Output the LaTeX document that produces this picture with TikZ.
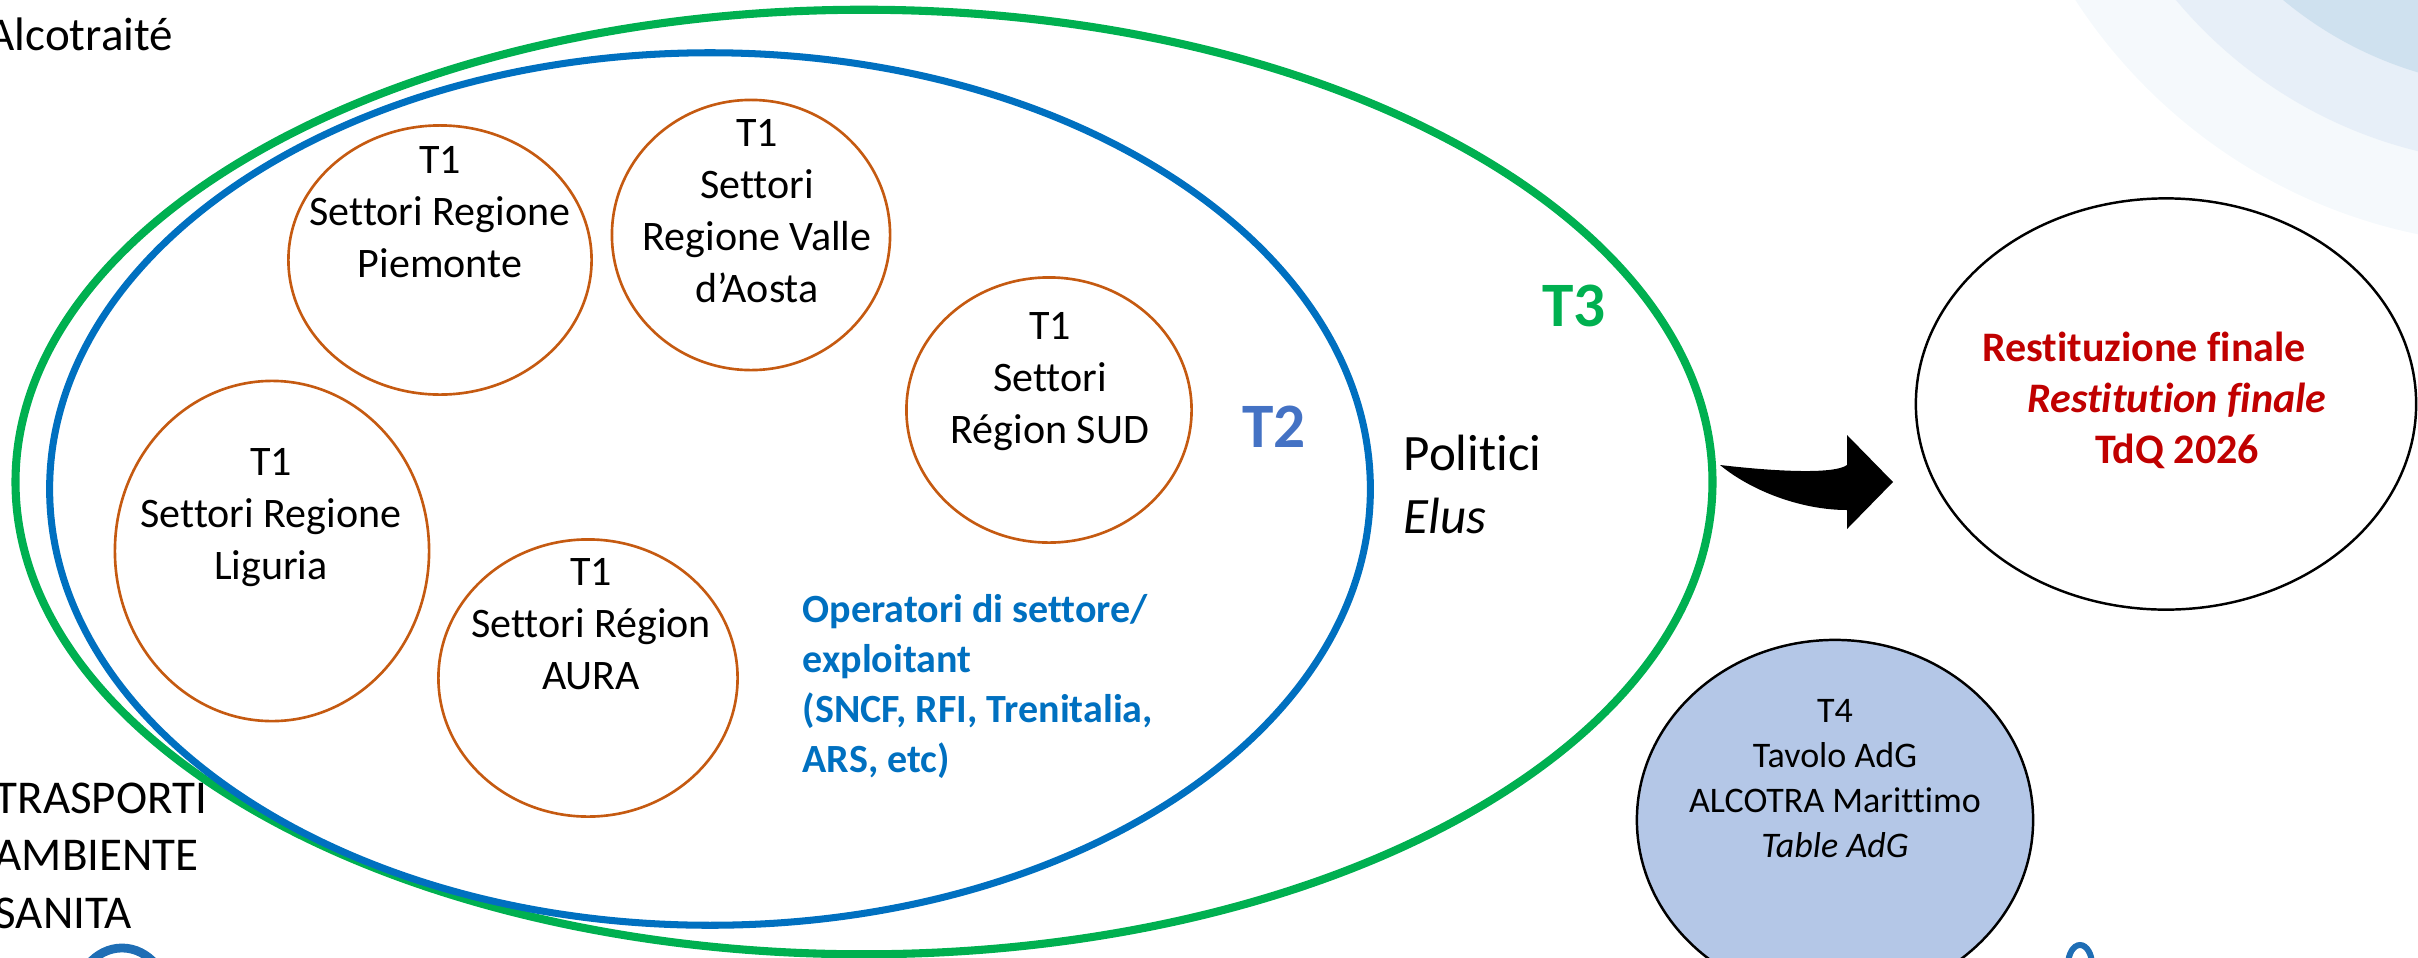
\documentclass[tikz,border=0pt]{standalone}
\usepackage{fontspec}
\setmainfont{Carlito}[Ligatures=NoCommon]
\usetikzlibrary{shapes.geometric}
\definecolor{tgreen}{HTML}{00B050}
\definecolor{tblue}{HTML}{0070C0}
\definecolor{tblueL}{HTML}{4472C4}
\definecolor{torange}{HTML}{C55A11}
\definecolor{tred}{HTML}{C00000}
\definecolor{tfill}{HTML}{B4C7E7}
\definecolor{bgA}{HTML}{F5F9FC}
\definecolor{bgB}{HTML}{E7EFF8}
\definecolor{bgC}{HTML}{CFE1EF}
\definecolor{logo}{HTML}{1F6EB5}
\begin{document}
\begin{tikzpicture}[x=0.01cm,y=-0.01cm,
  oval/.style={ellipse, inner sep=0pt, outer sep=0pt},
  t1circ/.style={oval, draw=torange, line width=0.75pt},
  t1text/.style={align=center, inner sep=0pt, font=\fontsize{11.95pt}{14.8pt}\selectfont},
  bigtext/.style={inner sep=0pt, align=left, font=\fontsize{13.37pt}{16.36pt}\selectfont},
  tlabel/.style={inner sep=0pt, font=\fontsize{18pt}{21pt}\selectfont\bfseries},
  blackoval/.style={oval, draw=black, line width=0.7pt}
]
\useasboundingbox (0,0) rectangle (2418,957);
\clip (0,0) rectangle (2418,957);
% background decoration
\fill[bgA] (2527,-293) circle [radius=5.38cm];
\fill[bgB] (2527,-293) circle [radius=4.57cm];
\fill[bgC] (2527,-293) circle [radius=3.81cm];
% big containers
\node[oval, draw=tgreen, line width=2.3pt, minimum width=16.96cm, minimum height=9.44cm] (t3) at (864,482) {};
\node[oval, draw=tblue, line width=2pt, minimum width=13.2cm, minimum height=8.72cm] (t2) at (710,489) {};
% T1 circles
\node[t1circ, minimum width=3.03cm, minimum height=2.69cm] (pie) at (440,260) {};
\node[t1circ, minimum width=2.78cm, minimum height=2.70cm] (vda) at (751,235) {};
\node[t1circ, minimum width=2.85cm, minimum height=2.65cm] (sud) at (1049,410) {};
\node[t1circ, minimum width=3.14cm, minimum height=3.40cm] (lig) at (272,551) {};
\node[t1circ, minimum width=2.99cm, minimum height=2.77cm] (aura) at (588,678) {};
\node[t1text] (pietx) at (440,212) {T1\\Settori Regione\\Piemonte};
\node[t1text] (vdatx) at (757,211) {T1\\Settori\\Regione Valle\\d’Aosta};
\node[t1text] (sudtx) at (1050,382) {T1\\Settori\\Région SUD};
\node[t1text] (ligtx) at (271,518) {T1\\Settori Regione\\Liguria};
\node[t1text] (auratx) at (591,624) {T1\\Settori Région\\AURA};
% operators
\node[inner sep=0pt, anchor=north west, align=left, text=tblue,
      font=\fontsize{11.38pt}{14.23pt}\selectfont\bfseries] (oper) at (802,594)
  {Operatori di settore/\\exploitant\\(SNCF, RFI, Trenitalia,\\ARS, etc)};
% labels
\node[tlabel, text=tblueL] (t2lab) at (1274,427) {T2};
\node[tlabel, text=tgreen] (t3lab) at (1574,306) {T3};
\node[inner sep=0pt, anchor=north west, align=left,
      font=\fontsize{14.51pt}{17.93pt}\selectfont] (pol) at (1403,434)
  {Politici\\\textit{Elus}};
\node[bigtext, anchor=base west] (alco) at (-13,50) {Alcotraité};
\node[bigtext, anchor=north west] (sect) at (-6,782) {TRASPORTI\\AMBIENTE\\SANITA};
% result ellipse
\node[blackoval, minimum width=5.0cm, minimum height=4.11cm] (rest) at (2166,404) {};
\node[inner sep=0pt, align=center, text=tred,
      font=\fontsize{11.95pt}{14.51pt}\selectfont\bfseries] (resttx) at (2177,400)
  {Restituzione finale\hspace*{0.66cm}\\\textit{Restitution finale}\\TdQ 2026};
% T4
\node[blackoval, fill=tfill, minimum width=3.96cm, minimum height=3.60cm] (t4) at (1835,820) {};
\node[inner sep=0pt, align=center, font=\fontsize{10.24pt}{12.8pt}\selectfont] (t4tx) at (1835,779)
  {T4\\Tavolo AdG\\ALCOTRA Marittimo\\\textit{Table AdG}};
% curved block arrow
\coordinate (arrtail) at (1720,465);
\coordinate (arrtip) at (1893,482);
\fill[black] (arrtail) .. controls (1780,472) and (1835,474) .. (1847,465)
  -- (1847,435) -- (arrtip) -- (1847,529) -- (1847,510)
  .. controls (1800,510) and (1750,490) .. (arrtail) -- cycle;
% small logo fragments
\draw[logo, line width=2.5pt] (122,1005) ellipse [x radius=0.48cm, y radius=0.57cm];
\draw[logo, line width=1.7pt] (2080,965) ellipse [x radius=0.12cm, y radius=0.2cm];
\end{tikzpicture}
\end{document}
